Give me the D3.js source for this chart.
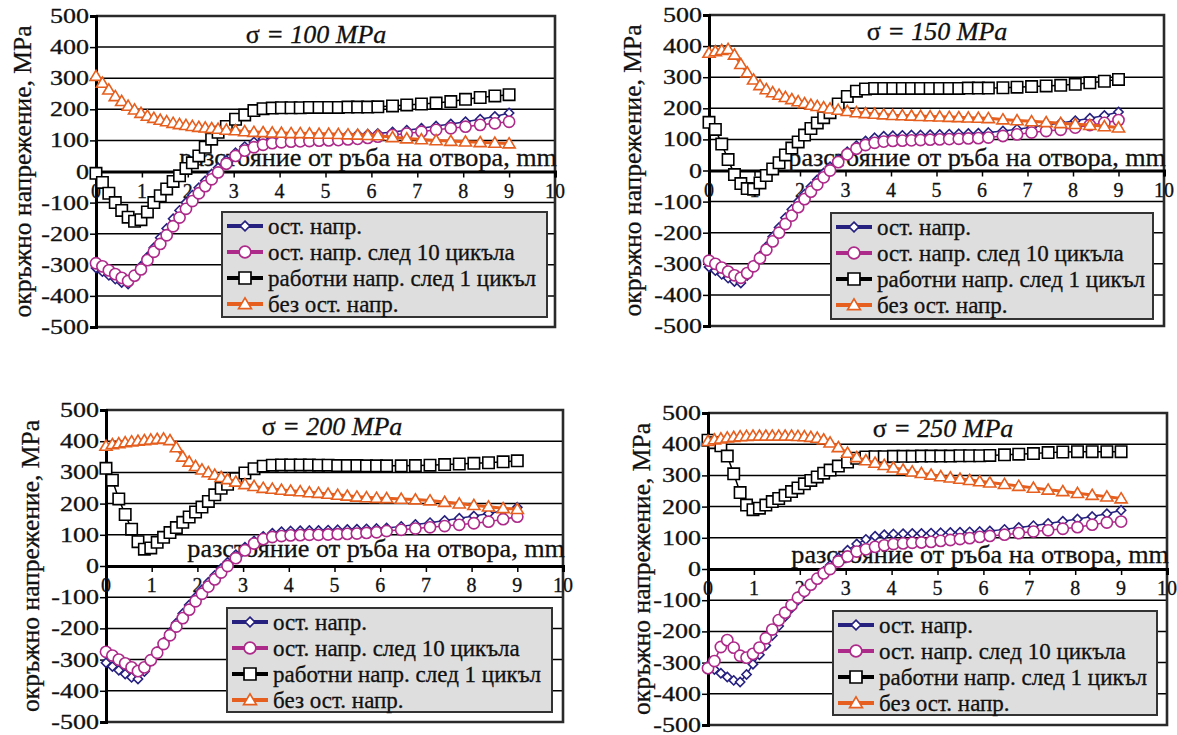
<!DOCTYPE html>
<html>
<head>
<meta charset="utf-8">
<script src="https://cdn.jsdelivr.net/npm/d3@7"></script>
<style>
    body { margin: 0; background: #fff; }
</style>
</head>
<body>
<svg id="chart" width="1177" height="735"></svg>
<script>
/* Data
============================================= */
// distance from the hole edge, mm (FE nodes)
const DISTANCE = [0, 0.14, 0.28, 0.42, 0.56, 0.7, 0.84, 0.98, 1.12, 1.26, 1.4, 1.54, 1.68, 1.82, 1.96,
    2.1, 2.24, 2.38, 2.52, 2.66, 2.84, 3.04, 3.24, 3.44, 3.64, 3.84, 4.04, 4.25, 4.45, 4.65, 4.86,
    5.07, 5.28, 5.49, 5.7, 5.92, 6.14, 6.46, 6.77, 7.09, 7.41, 7.73, 8.05, 8.37, 8.69, 9.0];

// ост. напр. (same in every panel)
const RESIDUAL = [-310, -322, -334, -346, -357, -362, -338, -305, -275, -245, -213, -183, -152, -125, -100,
    -76, -52, -30, -8, 12, 36, 60, 80, 95, 105, 110, 112, 113, 114, 114, 115,
    116, 117, 118, 119, 120, 122, 127, 133, 139, 146, 153, 160, 168, 177, 188];

// ост. напр. след 10 цикъла
const AFTER10_100 = [-295, -305, -318, -330, -342, -352, -335, -315, -285, -258, -233, -205, -176, -148, -120,
    -95, -70, -47, -25, -3, 25, 50, 67, 78, 86, 91, 94, 96, 97, 98, 99,
    100, 101, 103, 105, 108, 112, 117, 122, 128, 134, 139, 144, 150, 155, 160];
const AFTER10_150 = [-290, -300, -312, -325, -337, -345, -330, -308, -282, -255, -228, -200, -172, -145, -118,
    -92, -68, -45, -22, 0, 27, 52, 70, 82, 89, 93, 95, 96, 97, 98, 99,
    100, 101, 102, 103, 104, 106, 111, 116, 122, 127, 131, 138, 146, 153, 162];
const AFTER10_200 = [-275, -287, -300, -312, -325, -337, -325, -302, -278, -250, -222, -194, -167, -140, -113,
    -89, -66, -43, -21, 0, 25, 50, 72, 86, 93, 96, 98, 99, 100, 100, 101,
    102, 103, 104, 106, 108, 112, 116, 120, 124, 128, 132, 137, 142, 150, 158];
const AFTER10_250 = [-318, -295, -250, -228, -252, -278, -284, -272, -252, -222, -194, -164, -140, -116, -92,
    -70, -50, -31, -14, 0, 24, 40, 56, 63, 71, 76, 80, 82, 84, 85, 87,
    90, 93, 96, 99, 103, 106, 110, 115, 120, 124, 129, 134, 142, 149, 152];

// работни напр. след 1 цикъл
const WORK_100 = [-6, -35, -70, -100, -125, -147, -160, -155, -130, -100, -78, -56, -32, -14, 10,
    28, 50, 78, 104, 126, 145, 168, 182, 196, 202, 204, 205, 205, 205, 206, 206,
    206, 206, 207, 207, 207, 208, 211, 214, 217, 220, 225, 232, 238, 243, 247];
const WORK_150 = [155, 132, 85, 35, -13, -42, -58, -60, -40, -16, 5, 25, 50, 72, 92,
    114, 135, 153, 170, 186, 214, 238, 255, 262, 264, 264, 264, 264, 264, 264, 264,
    264, 264, 264, 265, 265, 265, 266, 268, 270, 272, 274, 277, 282, 287, 293];
const WORK_200 = [313, 275, 215, 165, 118, 78, 54, 58, 76, 92, 107, 123, 140, 157, 173,
    189, 207, 228, 249, 262, 280, 298, 312, 320, 323, 324, 324, 324, 324, 323, 323,
    322, 322, 322, 321, 321, 321, 321, 322, 323, 325, 327, 329, 331, 334, 337];
const WORK_250 = [413, 405, 395, 362, 305, 245, 205, 190, 195, 205, 216, 226, 236, 248, 260,
    273, 284, 295, 307, 317, 330, 343, 355, 359, 360, 360, 361, 361, 361, 362, 362,
    362, 362, 363, 363, 363, 364, 366, 368, 370, 373, 375, 376, 376, 376, 376];

// без ост. напр.
const NORES_100 = [307, 285, 263, 242, 226, 211, 199, 188, 179, 172, 166, 161, 156, 152, 149,
    146, 143, 141, 139, 137, 134, 132, 129, 127, 126, 125, 124, 123, 123, 122, 121,
    121, 120, 119, 118, 117, 116, 110, 106, 103, 100, 98, 96, 94, 92, 90];
const NORES_150 = [378, 383, 387, 390, 372, 342, 315, 292, 274, 261, 251, 243, 236, 229, 222,
    216, 211, 207, 203, 199, 195, 191, 187, 184, 182, 180, 178, 177, 176, 175, 174,
    173, 172, 171, 170, 169, 168, 164, 161, 158, 155, 152, 149, 146, 142, 138];
const NORES_200 = [385, 390, 393, 396, 399, 401, 403, 405, 407, 408, 403, 380, 350, 334, 320,
    309, 300, 292, 285, 278, 270, 262, 256, 250, 247, 244, 241, 239, 236, 234, 231,
    228, 225, 222, 220, 218, 217, 215, 213, 210, 205, 200, 195, 190, 185, 182];
const NORES_250 = [410, 415, 418, 421, 423, 425, 426, 427, 427, 427, 427, 427, 427, 427, 426,
    425, 423, 420, 415, 405, 390, 372, 358, 348, 340, 333, 325, 318, 312, 307, 302,
    297, 293, 289, 285, 281, 277, 272, 266, 260, 254, 249, 243, 237, 232, 226];

const SIGMA = [100, 150, 200, 250];
const SERIES_NAMES = ["ост. напр.", "ост. напр. след 10 цикъла", "работни напр. след 1 цикъл", "без ост. напр."];
const Y_TICKS = [-500, -400, -300, -200, -100, 0, 100, 200, 300, 400, 500];
const X_TICKS = [0, 1, 2, 3, 4, 5, 6, 7, 8, 9, 10];

const Y_LABEL = "окръжно напрежение, MPa";
const X_LABEL = "разстояние от ръба на отвора, mm";

const FONT = "'Liberation Serif', 'Times New Roman', serif";

/* Layout / styles
============================================= */
var panels = [
    { left: 96,  right: 555,  top: 16,  bottom: 327, labelX: 22,  titleX: 316, titleY: 43,  xLabelY: 166,
      legend: { x: 222, y: 212, w: 325, h: 105 } },
    { left: 709, right: 1164, top: 15,  bottom: 326, labelX: 632, titleX: 937, titleY: 40,  xLabelY: 166,
      legend: { x: 831, y: 213, w: 322, h: 106 } },
    { left: 106, right: 563,  top: 410, bottom: 722, labelX: 30,  titleX: 332, titleY: 435, xLabelY: 557,
      legend: { x: 227, y: 608, w: 325, h: 104 } },
    { left: 708, right: 1167, top: 413, bottom: 725, labelX: 641, titleX: 943, titleY: 437, xLabelY: 563,
      legend: { x: 833, y: 611, w: 324, h: 104 } }
];

var panelData = [
    [RESIDUAL, AFTER10_100, WORK_100, NORES_100],
    [RESIDUAL, AFTER10_150, WORK_150, NORES_150],
    [RESIDUAL, AFTER10_200, WORK_200, NORES_200],
    [RESIDUAL, AFTER10_250, WORK_250, NORES_250]
];

var styles = [
    { color: "#26207f", width: 1.5, marker: "diamond" },
    { color: "#ad2a8a", width: 1.6, marker: "circle" },
    { color: "#000000", width: 1.5, marker: "square" },
    { color: "#e65f1e", width: 3,   marker: "triangle" }
];

var svg = d3.select("#chart");

panels.forEach(function(p, i) {
    drawPanel(p, panelData[i], SIGMA[i]);
});

// scanned look: slightly heavier glyphs
svg.selectAll("text")
    .style("font-family", FONT)
    .attr("fill", "#111")
    .attr("stroke", "#111")
    .attr("stroke-width", 0.3);

/* Functions
============================================= */

/*
 * draws one chart panel
 */
function drawPanel(p, series, sigma) {
    var x = d3.scaleLinear().domain([0, 10]).range([p.left, p.right]);
    var y = d3.scaleLinear().domain([-500, 500]).range([p.bottom, p.top]);
    var g = svg.append("g");

    // gridlines
    g.selectAll(".grid")
        .data(Y_TICKS.filter(function(d) { return d > -500 && d < 500 && d !== 0; }))
        .enter()
        .append("line")
        .attr("x1", p.left).attr("x2", p.right)
        .attr("y1", function(d) { return y(d); })
        .attr("y2", function(d) { return y(d); })
        .attr("stroke", "#000")
        .attr("stroke-width", 1.5);

    // frame
    g.append("path")
        .attr("d", `M${p.left},${y(500)}H${p.right}V${y(-500)}H${p.left}`)
        .attr("fill", "none")
        .attr("stroke", "#2a2a2a")
        .attr("stroke-width", 2.6);

    // y axis
    var leftAxis = d3.axisLeft(y).tickValues(Y_TICKS).tickSize(6).tickFormat("");
    var yAxis = g.append("g")
        .attr("transform", `translate(${p.left}, 0)`)
        .call(leftAxis);
    yAxis.select(".domain").attr("stroke", "#000").attr("stroke-width", 3);
    yAxis.selectAll(".tick line").attr("stroke", "#000").attr("stroke-width", 1.5);

    g.selectAll(".ylab")
        .data(Y_TICKS)
        .enter()
        .append("text")
        .attr("transform", function(d) { return `translate(${p.left - 7}, ${y(d) + 7}) scale(1.3, 1)`; })
        .attr("text-anchor", "end")
        .style("font-size", "20px")
        .text(function(d) { return d; });

    // x axis at zero
    var bottomAxis = d3.axisBottom(x).tickValues(X_TICKS).tickSize(6).tickFormat("");
    var xAxis = g.append("g")
        .attr("transform", `translate(0, ${y(0)})`)
        .call(bottomAxis);
    xAxis.select(".domain").attr("stroke", "#000").attr("stroke-width", 3);
    xAxis.selectAll(".tick line").attr("stroke", "#000").attr("stroke-width", 1.5);

    g.selectAll(".xlab")
        .data(X_TICKS)
        .enter()
        .append("text")
        .attr("x", function(d) { return x(d); })
        .attr("y", y(0) + 26)
        .attr("text-anchor", "middle")
        .style("font-size", "20px")
        .text(function(d) { return d; });

    // axis labels
    g.append("text")
        .attr("transform", `translate(${p.labelX}, ${(p.top + p.bottom) / 2}) rotate(-90)`)
        .attr("text-anchor", "middle")
        .attr("dy", "0.35em")
        .style("font-size", "25.5px")
        .text(Y_LABEL);

    g.append("text")
        .attr("x", p.right + 2)
        .attr("y", p.xLabelY)
        .attr("text-anchor", "end")
        .style("font-size", "26.2px")
        .text(X_LABEL);

    // series
    series.forEach(function(values, k) {
        var st = styles[k];
        var pts = DISTANCE.map(function(d, j) { return [d, values[j]]; });
        var line = d3.line()
            .x(function(d) { return x(d[0]); })
            .y(function(d) { return y(d[1]); });
        g.append("path")
            .attr("d", line(pts))
            .attr("fill", "none")
            .attr("stroke", st.color)
            .attr("stroke-width", st.width);
        g.selectAll(".m" + k)
            .data(pts)
            .enter()
            .append("path")
            .attr("transform", function(d) { return `translate(${x(d[0])}, ${y(d[1])})`; })
            .attr("d", markerPath(st.marker, 1))
            .attr("fill", "#fff")
            .attr("stroke", st.color)
            .attr("stroke-width", 1.6);
    });

    // title
    var title = g.append("text")
        .attr("x", p.titleX)
        .attr("y", p.titleY)
        .attr("text-anchor", "middle")
        .style("font-size", "26px");
    title.append("tspan").text("σ ");
    title.append("tspan").style("font-style", "italic").text(" = " + sigma + " MPa");

    drawLegend(g, p.legend);
}

/*
 * legend box with line + marker samples
 */
function drawLegend(g, L) {
    var lg = g.append("g").attr("transform", `translate(${L.x}, ${L.y})`);
    lg.append("rect")
        .attr("width", L.w)
        .attr("height", L.h)
        .attr("fill", "#dedede")
        .attr("stroke", "#333")
        .attr("stroke-width", 2);

    SERIES_NAMES.forEach(function(name, k) {
        var st = styles[k];
        var ry = 14 + k * 26;
        lg.append("line")
            .attr("x1", 5).attr("x2", 41)
            .attr("y1", ry).attr("y2", ry)
            .attr("stroke", st.color)
            .attr("stroke-width", 4);
        lg.append("path")
            .attr("transform", `translate(23, ${ry})`)
            .attr("d", markerPath(st.marker, 1.05))
            .attr("fill", "#fff")
            .attr("stroke", k === 2 ? "#000" : st.color)
            .attr("stroke-width", 1.7);
        lg.append("text")
            .attr("x", 46)
            .attr("y", ry + 8)
            .style("font-size", "23px")
            .text(name);
    });
}

/*
 * marker shapes
 */
function markerPath(kind, s) {
    var r;
    if (kind === "diamond") {
        r = 4.6 * s;
        return `M0,${-r}L${r},0L0,${r}L${-r},0Z`;
    }
    if (kind === "circle") {
        r = 5.6 * s;
        return `M${r},0A${r},${r} 0 1,1 ${-r},0A${r},${r} 0 1,1 ${r},0Z`;
    }
    if (kind === "square") {
        r = 5.7 * s;
        return `M${-r},${-r}H${r}V${r}H${-r}Z`;
    }
    r = 5.8 * s;
    return `M0,${-r}L${r * 1.05},${r * 0.75}L${-r * 1.05},${r * 0.75}Z`;
}
</script>
</body>
</html>
